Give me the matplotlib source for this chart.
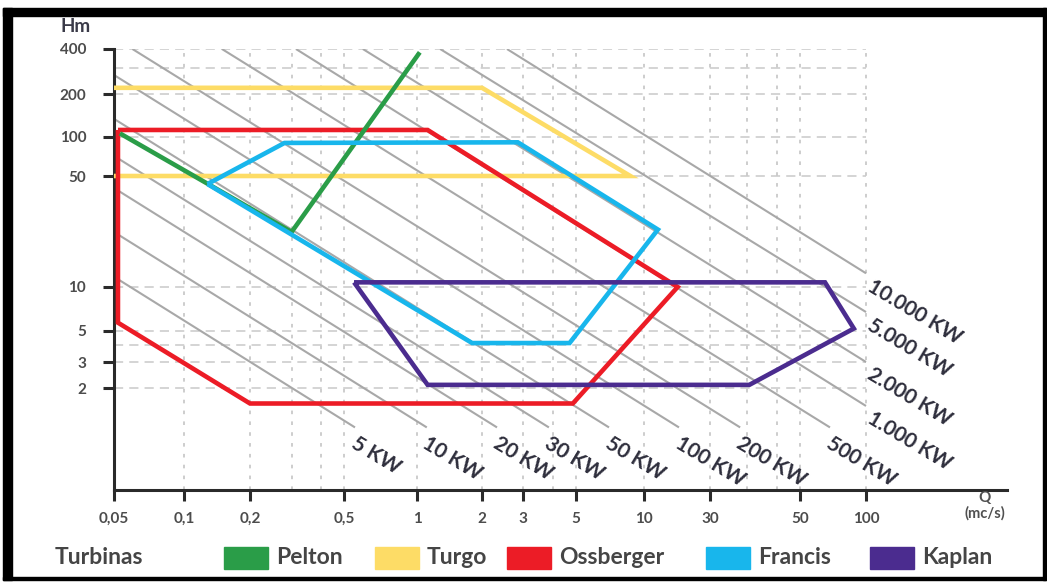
import numpy as np
import matplotlib
matplotlib.use('Agg')
import matplotlib.pyplot as plt
from matplotlib.patches import Rectangle
from matplotlib.ticker import FixedLocator, FixedFormatter, NullLocator

plt.rcParams['font.family'] = ['Lato', 'DejaVu Sans']

# --- axes: hand-spaced logarithmic rulers -------------------------------
q_ticks = [0.05, 0.1, 0.2, 0.5, 1, 2, 3, 5, 10, 30, 50, 100]
q_tick_labels = ['0,05', '0,1', '0,2', '0,5', '1', '2', '3', '5', '10', '30', '50', '100']
h_ticks = [2, 3, 5, 10, 50, 100, 200, 400]
h_tick_labels = ['2', '3', '5', '10', '50', '100', '200', '400']

# spacing of the rulers (value -> distance along the axis)
q_ruler_vals = [0.05, 0.1, 0.2, 0.5, 1, 2, 3, 5, 10, 30, 50, 100, 1000]
q_ruler_pos = [0, 70, 136, 230, 303, 368, 409, 462, 530, 596, 686, 752, 893]
h_ruler_vals = [1, 2, 3, 5, 10, 50, 100, 200, 400]
h_ruler_pos = [0, 102, 128, 159, 203, 314, 353, 396, 441]

q_grid = [0.1, 0.2, 0.3, 0.4, 0.5, 1, 2, 3, 4, 5, 10, 30, 37, 44, 50, 100]
h_grid = [2, 3, 4, 5, 10, 50, 100, 200, 300, 400]

# --- constant power lines -------------------------------------------------
power_labels = ['5 KW', '10 KW', '20 KW', '30 KW', '50 KW', '100 KW', '200 KW',
                '500 KW', '1.000 KW', '2.000 KW', '5.000 KW', '10.000 KW']
power_q0 = [0.05, 0.05, 0.05, 0.05, 0.05, 0.05, 0.06, 0.149, 0.313, 0.598, 1.28, 2.56]
power_h0 = [11.6, 22.2, 42, 71.5, 134, 268, 400, 400, 400, 400, 400, 400]
power_q1 = [0.555, 1.11, 2.32, 3.85, 7.0, 17.9, 35.6, 68.5, 100, 100, 100, 100]
power_h1 = [1.53, 1.53, 1.53, 1.53, 1.53, 1.53, 1.53, 1.53, 1.77, 3.0, 6.74, 12.2]

# --- turbine application ranges (Q in mc/s, H in m) ----------------------
pelton_q = [0.053, 0.30, 1.03]
pelton_h = [106, 22.2, 380]
turgo_q = [0.05, 2.0, 8.7, 0.05]
turgo_h = [220, 220, 50, 50]
ossberger_q = [0.052, 1.12, 17.5, 4.85, 0.2, 0.052, 0.052]
ossberger_h = [112, 112, 10, 1.8, 1.8, 5.7, 112]
francis_q = [0.128, 0.28, 2.85, 12.6, 4.7, 1.8, 0.128]
francis_h = [44.5, 90, 91, 23, 4.1, 4.1, 44.5]
kaplan_q = [0.55, 65, 88, 37.5, 1.12, 0.55]
kaplan_h = [10.7, 10.7, 5.2, 2.1, 2.1, 10.7]

turbine_names = ['Pelton', 'Turgo', 'Ossberger', 'Francis', 'Kaplan']
turbine_colors = ['#2a9d48', '#fddc66', '#ec1c26', '#18b6ec', '#4b2c8f']


def ruler(vals, pos):
    lv = np.log10(vals)

    def fwd(v):
        return np.interp(np.log10(np.clip(v, 1e-9, None)), lv, pos)

    def inv(p):
        return 10 ** np.interp(p, pos, lv)
    return fwd, inv


W, H = 1047, 585
fig = plt.figure(figsize=(W / 100, H / 100), dpi=100)
ax = fig.add_axes([114 / W, 1 - 490 / H, (1007 - 114) / W, (490 - 49) / H])

ax.set_xscale('function', functions=ruler(q_ruler_vals, q_ruler_pos))
ax.set_yscale('function', functions=ruler(h_ruler_vals, h_ruler_pos))
ax.set_xlim(0.05, 1000)
ax.set_ylim(1, 400)

ax.xaxis.set_major_locator(FixedLocator(q_ticks))
ax.xaxis.set_major_formatter(FixedFormatter(q_tick_labels))
ax.yaxis.set_major_locator(FixedLocator(h_ticks))
ax.yaxis.set_major_formatter(FixedFormatter(h_tick_labels))
ax.xaxis.set_minor_locator(NullLocator())
ax.yaxis.set_minor_locator(NullLocator())

for s in ['top', 'right']:
    ax.spines[s].set_visible(False)
for s in ['left', 'bottom']:
    ax.spines[s].set_linewidth(2.2)
    ax.spines[s].set_color('#2a2a2a')
ax.tick_params(length=8, width=2.2, color='#2a2a2a', labelsize=11,
               labelcolor='#4c4c4c')
ax.tick_params(axis='x', pad=8)
ax.tick_params(axis='y', pad=12)
for lab in ax.get_xticklabels() + ax.get_yticklabels():
    lab.set_fontweight('bold')

# grid only covers the charted range
ax.hlines(h_grid, 0.05, 100, colors='#c9c9c9', linestyles=(0, (6, 4)), lw=1.1, zorder=1)
ax.vlines(q_grid, 1, 400, colors='#c9c9c9', linestyles=(0, (2, 4)), lw=1.3, zorder=1)

# power lines with their labels
for i, lab in enumerate(power_labels):
    ax.plot([power_q0[i], power_q1[i]], [power_h0[i], power_h1[i]],
            color='#a8a8a8', lw=1.5, zorder=2, solid_capstyle='butt')
    off = (2, -4) if i < 8 else (6, -2)
    ax.annotate(lab, (power_q1[i], power_h1[i]), xytext=off,
                textcoords='offset points', ha='left', va='top',
                rotation=-31, rotation_mode='anchor', fontsize=15,
                fontweight='bold', color='#2e2e3c', annotation_clip=False)

series = [(turgo_q, turgo_h, 1), (ossberger_q, ossberger_h, 2),
          (pelton_q, pelton_h, 0), (francis_q, francis_h, 3),
          (kaplan_q, kaplan_h, 4)]
for z, (q, h, ci) in enumerate(series):
    ax.plot(q, h, color=turbine_colors[ci], lw=3.3, zorder=3 + z,
            solid_joinstyle='miter', solid_capstyle='butt')

# axis titles
fig.text(60 / W, 1 - 26 / H, 'Hm', fontsize=13.5, fontweight='bold',
         color='#3a3a48', va='center', ha='left')
fig.text(985 / W, 1 - 498 / H, 'Q', fontsize=11, fontweight='bold',
         color='#505050', ha='center', va='center')
fig.text(985 / W, 1 - 513 / H, '(mc/s)', fontsize=10.5, fontweight='bold',
         color='#505050', ha='center', va='center')

# legend row
fig.text(55 / W, 1 - 558 / H, 'Turbinas', fontsize=16.5, fontweight='bold',
         color='#454545', ha='left', va='center')
legend_x = [224, 375, 507, 706, 870]
for x, name, c in zip(legend_x, turbine_names, turbine_colors):
    fig.add_artist(Rectangle((x / W, 1 - 569 / H), 44 / W, 22 / H,
                             transform=fig.transFigure, color=c))
    fig.text((x + 52) / W, 1 - 558 / H, name, fontsize=16.5, fontweight='bold',
             color='#454545', ha='left', va='center')

# black frame
for x0, y0, w, h in [(3, 8, 1044, 8), (3, 8, 9, 572), (1043, 8, 3, 572),
                     (3, 577, 1043, 3)]:
    fig.add_artist(Rectangle((x0 / W, 1 - (y0 + h) / H), w / W, h / H,
                             transform=fig.transFigure, color='black'))

fig.savefig('out.png', dpi=100)
